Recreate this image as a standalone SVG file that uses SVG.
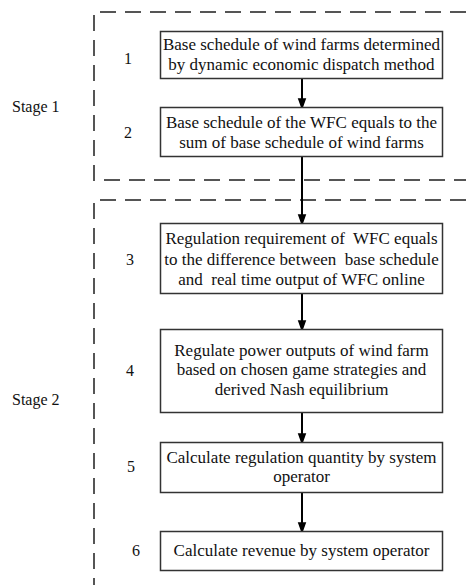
<svg xmlns="http://www.w3.org/2000/svg" width="466" height="585" viewBox="0 0 466 585">
<style>
.box{fill:#fff;stroke:#333;stroke-width:1.5}
.t{font-family:"Liberation Serif","Times New Roman",serif;font-size:17px;fill:#111;text-anchor:middle}
.lab{font-family:"Liberation Serif","Times New Roman",serif;font-size:16px;fill:#111}
.stage{fill:none;stroke:#555;stroke-width:2;stroke-dasharray:16 9}
.conn{stroke:#000;stroke-width:2;fill:none;marker-end:url(#ah)}
</style>
<defs>
<marker id="ah" markerUnits="userSpaceOnUse" markerWidth="12" markerHeight="17" refX="11" refY="6" orient="auto" viewBox="0 0 17 12">
<path d="M0,0 L17,6 L0,12 z" fill="#000"/>
</marker>
</defs>
<g id="stage1">
<path class="stage" d="M466 12 H94 V180 H466"/>
<text class="lab" x="12" y="112">Stage 1</text>
</g>
<g id="stage2">
<path class="stage" d="M466 200 H94 V585"/>
<text class="lab" x="12" y="405">Stage 2</text>
</g>
<g id="connectors">
<path class="conn" d="M302 78 V106"/>
<path class="conn" d="M302 156 V222"/>
<path class="conn" d="M302 294 V328"/>
<path class="conn" d="M302 412 V441"/>
<path class="conn" d="M302 493 V530"/>
</g>
<g id="n1">
<rect class="box" x="160.5" y="31.5" width="282" height="47"/>
<text class="t" x="301.5" y="50">Base schedule of wind farms determined</text>
<text class="t" x="301.5" y="70">by dynamic economic dispatch method</text>
<text class="lab" x="124" y="64">1</text>
</g>
<g id="n2">
<rect class="box" x="160.5" y="107.5" width="282" height="49"/>
<text class="t" x="301.5" y="128">Base schedule of the WFC equals to the</text>
<text class="t" x="301.5" y="148">sum of base schedule of wind farms</text>
<text class="lab" x="124" y="138">2</text>
</g>
<g id="n3">
<rect class="box" x="160.5" y="223.5" width="282" height="70"/>
<text class="t" x="301.5" y="244" xml:space="preserve">Regulation requirement of  WFC equals</text>
<text class="t" x="301.5" y="265" xml:space="preserve">to the difference between  base schedule</text>
<text class="t" x="301.5" y="285" xml:space="preserve">and  real time output of WFC online</text>
<text class="lab" x="126" y="265">3</text>
</g>
<g id="n4">
<rect class="box" x="160.5" y="329.5" width="282" height="83"/>
<text class="t" x="301.5" y="356">Regulate power outputs of wind farm</text>
<text class="t" x="301.5" y="375">based on chosen game strategies and</text>
<text class="t" x="301.5" y="395">derived Nash equilibrium</text>
<text class="lab" x="126" y="376">4</text>
</g>
<g id="n5">
<rect class="box" x="160.5" y="442.5" width="282" height="50"/>
<text class="t" x="301.5" y="463">Calculate regulation quantity by system</text>
<text class="t" x="301.5" y="482">operator</text>
<text class="lab" x="127" y="472">5</text>
</g>
<g id="n6">
<rect class="box" x="160.5" y="531.5" width="282" height="39"/>
<text class="t" x="301.5" y="556">Calculate revenue by system operator</text>
<text class="lab" x="132" y="556">6</text>
</g>
</svg>
